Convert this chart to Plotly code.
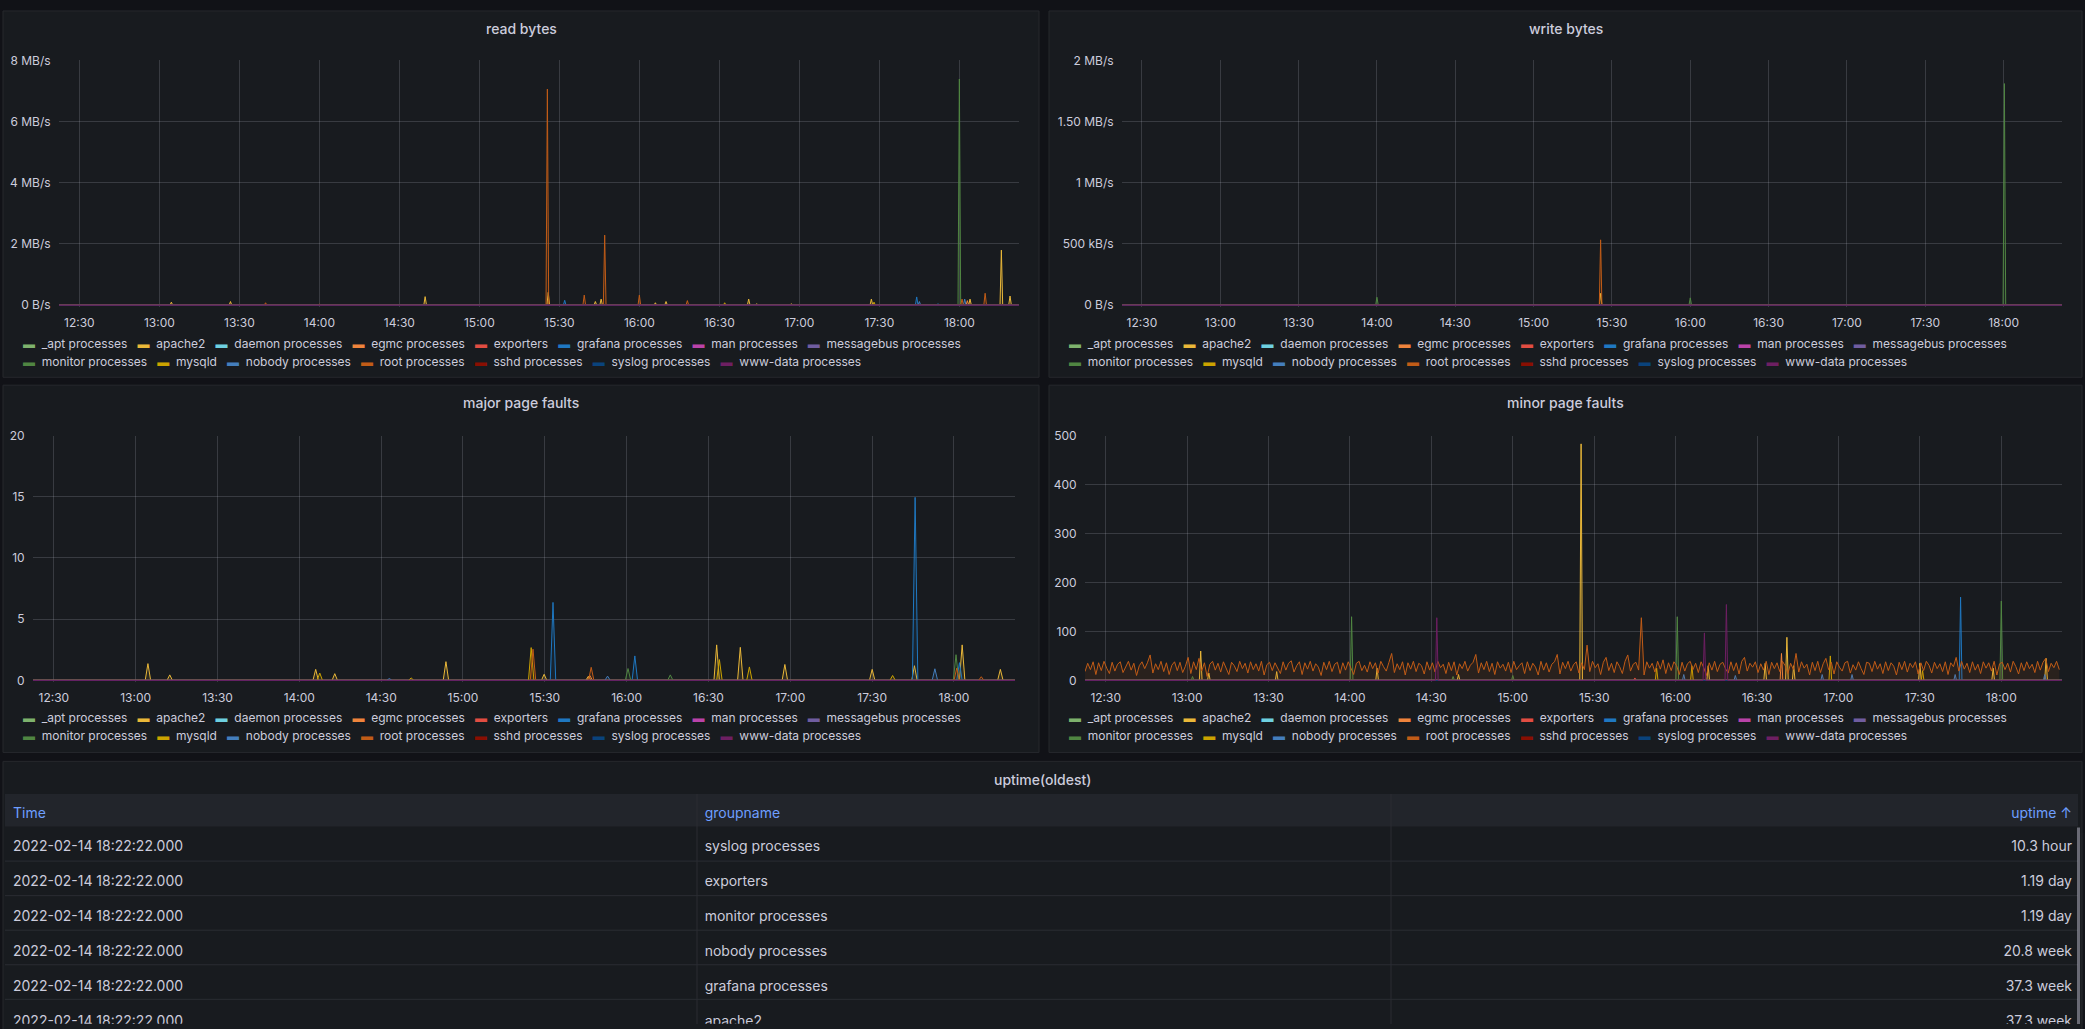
import pandas as pd
import plotly.graph_objects as go

W, H = 2085, 1029
DAY = "2022-02-14"
T_START = "2022-02-14 12:22:22"
T_END = "2022-02-14 18:22:22"

FONT = "Inter"
TEXT = "#ccccdc"
GRID = "rgba(204,204,220,0.18)"
PANEL_BG = "#181b1f"
PAGE_BG = "#111217"
TABLE_LINE = "#2a2d33"

# series names and grafana classic palette (legend order)
SERIES = ["_apt processes", "apache2", "daemon processes", "egmc processes", "exporters",
          "grafana processes", "man processes", "messagebus processes", "monitor processes",
          "mysqld", "nobody processes", "root processes", "sshd processes", "syslog processes",
          "www-data processes"]
COLORS = ["#7EB26D", "#EAB839", "#6ED0E0", "#EF843C", "#E24D42", "#1F78C1", "#BA43A9",
          "#705DA0", "#508642", "#CCA300", "#447EBC", "#C15C17", "#890F02", "#0A437C", "#6D1F62"]

# read bytes (B/s): (time, value) of every non-zero sample, the rest is 0
READ_SPIKES = {
    "root processes": [("13:39:50", 0.08e6), ("14:00:00", 0.03e6), ("15:25:30", 7.06e6),
                       ("15:39:20", 0.33e6), ("15:47:00", 2.29e6), ("16:00:00", 0.33e6),
                       ("16:18:00", 0.15e6), ("18:01:00", 0.2e6), ("18:09:40", 0.39e6)],
    "monitor processes": [("18:00:00", 7.39e6)],
    "apache2": [("13:04:30", 0.1e6), ("13:26:40", 0.12e6), ("14:39:40", 0.28e6),
                ("15:25:50", 0.42e6), ("15:43:30", 0.12e6), ("15:45:40", 0.2e6),
                ("16:06:00", 0.08e6), ("16:10:00", 0.12e6), ("16:41:00", 0.2e6),
                ("16:44:00", 0.05e6), ("16:57:00", 0.05e6), ("17:27:00", 0.2e6),
                ("18:04:00", 0.2e6), ("18:15:45", 1.8e6), ("18:19:00", 0.3e6)],
    "mysqld": [("16:32:00", 0.08e6), ("17:28:00", 0.1e6)],
    "grafana processes": [("15:32:00", 0.16e6), ("17:44:00", 0.27e6), ("17:52:00", 0.05e6)],
    "nobody processes": [("17:45:00", 0.12e6), ("18:02:00", 0.2e6)],
    "egmc processes": [("18:03:00", 0.15e6)],
}

# write bytes (B/s)
WRITE_SPIKES = {
    "monitor processes": [("14:00:00", 0.065e6), ("16:00:00", 0.06e6), ("18:00:18", 1.81e6)],
    "root processes": [("15:25:40", 0.534e6)],
    "apache2": [("15:25:40", 0.097e6)],
}

# major page faults
MAJOR_SPIKES = {
    "apache2": [("13:04:30", 1.37), ("13:12:30", 0.45), ("14:06:00", 0.9), ("14:13:00", 0.55),
                ("14:53:45", 1.53), ("15:29:45", 0.5), ("15:46:00", 0.35), ("16:33:00", 2.9),
                ("16:41:40", 2.7), ("16:58:00", 1.3), ("17:30:00", 0.9), ("17:45:30", 1.2),
                ("18:03:00", 2.9), ("18:17:00", 0.9)],
    "mysqld": [("14:07:30", 0.6), ("14:41:00", 0.2), ("15:25:00", 2.68), ("16:34:00", 1.7),
               ("16:45:00", 1.1), ("17:37:30", 0.4)],
    "root processes": [("15:25:40", 2.55), ("15:47:00", 1.07), ("18:01:00", 1.0), ("18:10:00", 0.3)],
    "grafana processes": [("15:33:00", 6.37), ("16:03:00", 2.0), ("17:45:45", 14.95), ("18:02:00", 1.45)],
    "nobody processes": [("14:33:00", 0.15), ("15:53:00", 0.35), ("17:53:00", 0.95)],
    "monitor processes": [("16:00:30", 0.97), ("16:16:00", 0.45), ("18:00:45", 2.1)],
    "egmc processes": [("15:46:30", 0.4)],
}

# minor page faults
MINOR_SPIKES = {
    "apache2": [("13:05:00", 60), ("13:08:00", 15), ("13:33:00", 18), ("14:10:00", 25),
                ("14:40:00", 12), ("15:25:10", 483), ("16:12:00", 30), ("16:33:00", 35),
                ("16:41:00", 88), ("16:43:30", 30), ("17:30:00", 35), ("17:57:00", 25),
                ("18:16:30", 45)],
    "mysqld": [("15:53:00", 25), ("16:06:00", 30), ("16:57:00", 50), ("17:31:00", 20)],
    "monitor processes": [("13:02:00", 8), ("14:00:36", 130), ("14:38:00", 8), ("15:00:00", 10),
                          ("16:00:36", 130), ("18:00:00", 162)],
    "www-data processes": [("14:32:00", 128), ("16:10:36", 97), ("16:18:42", 155)],
    "grafana processes": [("17:45:00", 170)],
    "nobody processes": [("16:03:00", 12), ("16:22:00", 10), ("16:54:00", 12), ("17:05:00", 12),
                         ("17:43:00", 12), ("18:16:00", 12)],
    "egmc processes": [("16:39:00", 55)],
    "exporters": [("15:45:00", 5)],
}

# root processes minor faults, one sample per minute from 12:22:22
MINOR_ROOT = [
    18, 35, 22, 38, 12, 36, 20, 39, 25, 14, 37, 19, 33, 38, 16, 28, 39, 21, 35, 10, 30, 38, 24, 36, 52, 15, 34, 22, 39, 18,
    36, 12, 31, 38, 20, 37, 16, 29, 47, 14, 38, 22, 45, 19, 36, 8, 33, 39, 21, 35, 17, 38, 26, 12, 37, 30, 18, 39, 24, 35,
    15, 38, 22, 34, 19, 39, 11, 32, 37, 20, 36, 25, 14, 38, 21, 35, 40, 17, 30, 38, 12, 36, 23, 39, 19, 34, 27, 10, 37, 22,
    39, 18, 33, 37, 14, 36, 21, 38, 26, 12, 35, 39, 20, 31, 17, 38, 24, 36, 15, 39, 28, 19, 37, 55, 16, 34, 22, 38, 11, 36,
    23, 39, 18, 35, 30, 13, 38, 21, 36, 17, 39, 26, 33, 14, 37, 20, 38, 11, 34, 24, 39, 19, 31, 37, 53, 15, 36, 22, 39, 18,
    35, 12, 38, 25, 33, 19, 37, 16, 39, 22, 30, 36, 14, 38, 20, 35, 27, 11, 39, 21, 36, 17, 33, 38, 53, 13, 37, 24, 39, 19,
    32, 38, 15, 36, 22, 72, 18, 39, 26, 34, 12, 37, 47, 20, 35, 16, 38, 28, 14, 39, 52, 19, 33, 37, 21, 128, 11, 38, 25, 35,
    17, 39, 23, 42, 14, 36, 20, 38, 30, 12, 37, 19, 34, 39, 22, 35, 16, 38, 26, 10, 36, 21, 39, 18, 33, 37, 24, 15, 38, 20,
    36, 13, 39, 47, 19, 35, 27, 38, 16, 34, 21, 39, 12, 37, 24, 36, 18, 39, 30, 14, 35, 22, 55, 17, 38, 25, 33, 11, 37, 20,
    39, 16, 34, 45, 22, 37, 13, 38, 27, 19, 36, 39, 15, 32, 21, 38, 24, 12, 37, 35, 18, 39, 23, 34, 14, 38, 20, 36, 29, 11,
    37, 22, 39, 17, 35, 26, 38, 13, 36, 20, 39, 31, 15, 37, 24, 34, 18, 38, 12, 36, 28, 47, 19, 39, 23, 35, 16, 38, 21, 33,
    14, 38, 25, 36, 19, 39, 11, 34, 37, 22, 35, 17, 39, 28, 13, 36, 20, 38, 24, 33, 16, 39, 21, 37, 45, 18, 35, 26, 39, 22,
]

# uptime table
TABLE_TIME = ["2022-02-14 18:22:22.000"] * 6
TABLE_GROUP = ["syslog processes", "exporters", "monitor processes", "nobody processes",
               "grafana processes", "apache2"]
TABLE_UPTIME = ["10.3 hour", "1.19 day", "1.19 day", "20.8 week", "37.3 week", "37.3 week"]

READ_TICKS = [0, 2e6, 4e6, 6e6, 8e6]
READ_LABELS = ["0 B/s", "2 MB/s", "4 MB/s", "6 MB/s", "8 MB/s"]
WRITE_TICKS = [0, 5e5, 1e6, 1.5e6, 2e6]
WRITE_LABELS = ["0 B/s", "500 kB/s", "1 MB/s", "1.50 MB/s", "2 MB/s"]
MAJOR_TICKS = [0, 5, 10, 15, 20]
MINOR_TICKS = [0, 100, 200, 300, 400, 500]


def px(x):
    return x / W


def py(y):
    return 1 - y / H


def rgba(hexc, a):
    h = hexc.lstrip("#")
    return f"rgba({int(h[0:2], 16)},{int(h[2:4], 16)},{int(h[4:6], 16)},{a})"


def spike_xy(points, step_s):
    step = pd.Timedelta(seconds=step_s)
    xs, ys = [pd.Timestamp(T_START)], [0]
    for hms, v in sorted(points):
        t = pd.Timestamp(f"{DAY} {hms}")
        xs += [t - step, t, t + step]
        ys += [0, v, 0]
    xs.append(pd.Timestamp(T_END))
    ys.append(0)
    return xs, ys


def rect(x0, y0, x1, y1, fill, line=None):
    return dict(type="rect", xref="paper", yref="paper", x0=px(x0), x1=px(x1),
                y0=py(y1), y1=py(y0), fillcolor=fill, layer="below",
                line=dict(color=line or "rgba(0,0,0,0)", width=1 if line else 0))


def hline(x0, x1, y, color):
    return dict(type="line", xref="paper", yref="paper", x0=px(x0), x1=px(x1),
                y0=py(y), y1=py(y), line=dict(color=color, width=1), layer="below")


def vline(x, y0, y1, color):
    return dict(type="line", xref="paper", yref="paper", x0=px(x), x1=px(x),
                y0=py(y1), y1=py(y0), line=dict(color=color, width=1), layer="below")


# panel rect, plot rect (pixels), data, y axis
panels = [
    dict(title="read bytes", rect=(3, 3, 1039, 374), plot=(59, 53, 1019, 301),
         spikes=READ_SPIKES, step=30, ticks=READ_TICKS, labels=READ_LABELS),
    dict(title="write bytes", rect=(1049, 3, 2082, 374), plot=(1122, 53, 2062, 301),
         spikes=WRITE_SPIKES, step=30, ticks=WRITE_TICKS, labels=WRITE_LABELS),
    dict(title="major page faults", rect=(3, 382, 1039, 754), plot=(33, 433, 1015, 681),
         spikes=MAJOR_SPIKES, step=60, ticks=MAJOR_TICKS, labels=[str(v) for v in MAJOR_TICKS]),
    dict(title="minor page faults", rect=(1049, 382, 2082, 754), plot=(1085, 433, 2062, 681),
         spikes=MINOR_SPIKES, step=30, ticks=MINOR_TICKS, labels=[str(v) for v in MINOR_TICKS],
         root_noise=MINOR_ROOT),
]

fig = go.Figure()
shapes, annotations = [], []
layout_axes = {}

for i, p in enumerate(panels, start=1):
    x0, y0, x1, y1 = p["rect"]
    shapes.append(rect(x0, y0, x1, y1, PANEL_BG, "#26282d"))
    annotations.append(dict(text=p["title"], x=px((x0 + x1) / 2), y=py(y0 + 18), xref="paper",
                            yref="paper", showarrow=False, xanchor="center", yanchor="middle",
                            font=dict(family=FONT, size=14, color=TEXT, weight=500)))

    for name, color in zip(SERIES, COLORS):
        if name == "root processes" and "root_noise" in p:
            xs = pd.date_range(T_START, periods=len(p["root_noise"]), freq="min")
            ys = p["root_noise"]
        else:
            xs, ys = spike_xy(p["spikes"].get(name, []), p["step"])
        fig.add_trace(go.Scatter(x=xs, y=ys, name=name, mode="lines",
                                 line=dict(color=color, width=1), fill="tozeroy",
                                 fillcolor=rgba(color, 0.1), showlegend=False,
                                 xaxis=f"x{i}", yaxis=f"y{i}"))

    # legend rows
    lx = x0 + 18
    for row, names in enumerate([SERIES[:8], SERIES[8:]]):
        parts = [f"<span style='color:{COLORS[SERIES.index(n)]}'>▬</span>\u00a0\u00a0{n}" for n in names]
        annotations.append(dict(text="\u00a0\u00a0\u00a0".join(parts), x=px(lx),
                                y=py(y0 + 337 + row * 18), xref="paper", yref="paper",
                                showarrow=False, xanchor="left", yanchor="middle",
                                font=dict(family=FONT, size=12, color=TEXT)))

    ax0, ay0, ax1, ay1 = p["plot"]
    ymax = p["ticks"][-1]
    pad = ymax * 2 / (ay1 - ay0)
    sfx = "" if i == 1 else str(i)
    layout_axes[f"xaxis{sfx}"] = dict(
        type="date", range=[T_START, T_END], domain=[px(ax0), px(ax1)], anchor=f"y{i}",
        tick0=f"{DAY} 12:30:00", dtick=30 * 60 * 1000, tickformat="%H:%M",
        showgrid=True, gridcolor=GRID, gridwidth=1, zeroline=False, showline=False,
        ticks="outside", ticklen=4, tickcolor="rgba(0,0,0,0)",
        tickfont=dict(family=FONT, size=12, color=TEXT), fixedrange=True)
    layout_axes[f"yaxis{sfx}"] = dict(
        range=[-pad, ymax], domain=[py(ay1 + 2), py(ay0)], anchor=f"x{i}",
        tickvals=p["ticks"], ticktext=p["labels"], showgrid=True, gridcolor=GRID,
        gridwidth=1, zeroline=False, showline=False, ticks="outside", ticklen=5,
        tickcolor="rgba(0,0,0,0)", tickfont=dict(family=FONT, size=12, color=TEXT),
        fixedrange=True)

# table panel: background, header band and grid drawn as shapes, text from go.Table
TBL_L, TBL_R, HDR_TOP, HDR_H, ROW_H = 5, 2078, 796, 33, 35
COL_EDGES = [697, 1391]
shapes.append(rect(3, 763, 2082, 1040, PANEL_BG, "#26282d"))
shapes.append(rect(TBL_L, HDR_TOP, TBL_R, HDR_TOP + HDR_H, "#22252b"))
for cx in COL_EDGES:
    shapes.append(vline(cx, HDR_TOP, H, TABLE_LINE))
for k in range(1, len(TABLE_TIME)):
    shapes.append(hline(TBL_L, TBL_R, HDR_TOP + HDR_H + k * ROW_H, TABLE_LINE))
shapes.append(rect(2077, HDR_TOP + HDR_H + 1, 2080, H, "rgba(204,204,220,0.45)"))
annotations.append(dict(text="uptime(oldest)", x=px(1042), y=py(781), xref="paper", yref="paper",
                        showarrow=False, xanchor="center", yanchor="middle",
                        font=dict(family=FONT, size=14, color=TEXT, weight=500)))

fig.add_trace(go.Table(
    domain=dict(x=[px(TBL_L), px(TBL_R + 2)], y=[0, py(HDR_TOP + 6)]),
    columnwidth=[1, 1, 1],
    header=dict(values=["Time", "groupname", "uptime ↑"], fill_color="rgba(0,0,0,0)",
                font=dict(family=FONT, size=14, color="#6E9FFF"),
                align=["left", "left", "right"], height=HDR_H,
                line=dict(color="rgba(0,0,0,0)", width=0)),
    cells=dict(values=[TABLE_TIME, TABLE_GROUP, TABLE_UPTIME], fill_color="rgba(0,0,0,0)",
               font=dict(family=FONT, size=14, color=TEXT),
               align=["left", "left", "right"], height=ROW_H,
               line=dict(color="rgba(0,0,0,0)", width=0)),
))

fig.update_layout(
    width=W, height=H, margin=dict(l=0, r=0, t=0, b=0),
    paper_bgcolor=PAGE_BG, plot_bgcolor="rgba(0,0,0,0)",
    font=dict(family=FONT, size=12, color=TEXT),
    shapes=shapes, annotations=annotations, hovermode=False,
    **layout_axes,
)

fig.write_html("out.html", config={"displayModeBar": False},
               post_script="document.body.style.margin='0';document.body.style.background='#111217';")
